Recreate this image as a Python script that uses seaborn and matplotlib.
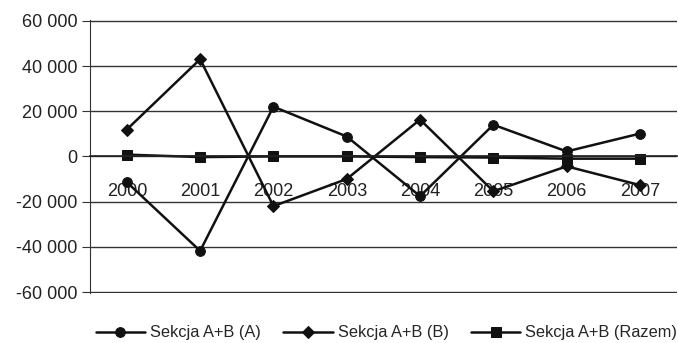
import numpy as np
import pandas as pd
import seaborn as sns
from matplotlib import pyplot as plt
from matplotlib.ticker import FuncFormatter, FixedLocator

years = ["2000", "2001", "2002", "2003", "2004", "2005", "2006", "2007"]
sekcja_a = [-11400, -41800, 22000, 8800, -17600, 14000, 2200, 10100]
sekcja_b = [11900, 43000, -22000, -10000, 16300, -15400, -4400, -12700]
sekcja_razem = [800, -300, 0, 0, -300, -500, -1000, -1000]
labels = ["Sekcja A+B (A)", "Sekcja A+B (B)", "Sekcja A+B (Razem)"]

df = pd.DataFrame({
    "pos": list(range(len(years))) * 3,
    "value": sekcja_a + sekcja_b + sekcja_razem,
    "series": [labels[0]] * 8 + [labels[1]] * 8 + [labels[2]] * 8,
})

sns.set_style("white")
plt.rcParams["font.family"] = ["Liberation Sans", "DejaVu Sans"]

fig = plt.figure(figsize=(6.78, 3.43), dpi=100)
ax = fig.add_axes([0.133, 0.146, 0.865, 0.796])

markers = {labels[0]: "o", labels[1]: "D", labels[2]: "s"}
sizes = {labels[0]: 7, labels[1]: 6, labels[2]: 7}
for name in labels:
    sub = df[df["series"] == name]
    sns.lineplot(data=sub, x="pos", y="value", ax=ax, color="#111111",
                 marker=markers[name], markersize=sizes[name], linewidth=1.8,
                 markeredgecolor="#111111", label=name, legend=False)

ax.set_xlim(-0.5, len(years) - 0.5)
ax.set_ylim(-60400, 60400)
ax.set_yticks(np.arange(-60000, 60001, 20000))
ax.yaxis.set_major_formatter(FuncFormatter(lambda v, p: f"{int(v):,}".replace(",", " ")))
ax.grid(axis="y", color="#333333", linewidth=1.0)
ax.set_axisbelow(True)

ax.spines["top"].set_visible(False)
ax.spines["right"].set_visible(False)
ax.spines["left"].set_color("#333333")
ax.spines["bottom"].set_position(("data", 0))
ax.spines["bottom"].set_color("#222222")
ax.spines["bottom"].set_linewidth(1.2)

ax.set_xticks(range(len(years)))
ax.set_xticklabels(years, fontsize=13, color="#222222")
ax.tick_params(axis="x", which="major", length=0, pad=19)
ax.xaxis.set_minor_locator(FixedLocator(np.arange(0.5, len(years) - 0.5, 1)))
ax.tick_params(axis="x", which="minor", direction="out", length=4, color="#444444")
ax.tick_params(axis="y", labelsize=13, colors="#222222", length=6, direction="out",
               left=True, color="#333333", pad=3)
ax.set_xlabel("")
ax.set_ylabel("")

handles, hl = ax.get_legend_handles_labels()
fig.legend(handles, hl, loc="lower center", ncol=3, frameon=False,
           bbox_to_anchor=(0.57, -0.035), fontsize=11.8, handlelength=3.0,
           handletextpad=0.3, columnspacing=1.4)

fig.savefig("out.png", dpi=100)
